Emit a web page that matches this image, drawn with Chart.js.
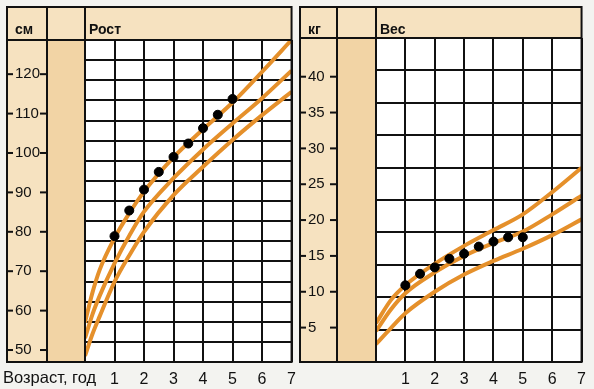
<!DOCTYPE html>
<html>
<head>
<meta charset="utf-8">
<script src="https://cdn.jsdelivr.net/npm/chart.js@4.4.1/dist/chart.umd.min.js"></script>
<style>
  html, body { margin: 0; padding: 0; background: #f3f3f0; }
  #wrap { position: relative; width: 594px; height: 389px; overflow: hidden; }
  canvas { position: absolute; top: 0; }
  #growth { left: 0; }
  #weight { left: 297px; }
</style>
</head>
<body>
<div id="wrap">
  <canvas id="growth" width="304" height="389"></canvas>
  <canvas id="weight" width="297" height="389"></canvas>
</div>
<script>
// ---- data ----
const heightTicks = [50, 60, 70, 80, 90, 100, 110, 120];
const weightTicks = [5, 10, 15, 20, 25, 30, 35, 40];

// measured child, every half year
const dotAges = [1, 1.5, 2, 2.5, 3, 3.5, 4, 4.5, 5];
const heightDots = [78.9, 85.4, 90.7, 95.2, 99.0, 102.4, 106.3, 109.7, 113.7];
const weightDots = [10.9, 12.5, 13.4, 14.6, 15.3, 16.3, 17.0, 17.6, 17.6];

// norm curves (upper / middle / lower)
const heightAges = [0, 0.25, 0.5, 1, 1.5, 2, 3, 4, 5, 6, 7];
const heightUpper = [57, 64.5, 70.4, 78.4, 84.7, 90.2, 98.9, 106, 112.8, 120.6, 128.7];
const heightMiddle = [53, 59, 63.8, 72, 79, 85.1, 93.6, 100.9, 107.5, 113.9, 120.9];
const heightLower = [48.5, 54, 58.6, 67.3, 74, 80, 89.3, 96.5, 103.3, 109.6, 115.5];

const weightAges = [0, 0.5, 1, 2, 3, 4, 5, 6, 7];
const weightUpper = [5.6, 8.8, 10.9, 13.9, 16.4, 18.6, 20.8, 23.9, 27.3];
const weightMiddle = [4.5, 7.5, 9.8, 12.7, 15.0, 16.8, 18.4, 20.8, 23.4];
const weightLower = [2.7, 4.9, 7.0, 10.0, 12.4, 14.3, 16.0, 17.9, 20.1];

const FONT = '"Liberation Sans", Arial, sans-serif';

// beige frame, header, value labels with little dashes
const framePlugin = {
  id: 'frame',
  beforeDraw(chart, args, o) {
    const { ctx, chartArea: a } = chart;
    ctx.save();
    ctx.fillStyle = '#f6e2c0';
    ctx.fillRect(o.x0, o.y0, a.right - o.x0, a.top - o.y0);
    ctx.fillRect(o.x0, a.top, o.col - o.x0, a.bottom - a.top);
    ctx.fillStyle = '#f2d4a5';
    ctx.fillRect(o.col, a.top, a.left - o.col, a.bottom - a.top);
    ctx.fillStyle = '#ffffff';
    ctx.fillRect(a.left, a.top, a.right - a.left, a.bottom - a.top);
    ctx.restore();
  },
  afterDraw(chart, args, o) {
    const { ctx, chartArea: a } = chart;
    const y = chart.scales.y;
    ctx.save();
    ctx.strokeStyle = '#111';
    ctx.lineWidth = 2;
    ctx.strokeRect(o.x0, o.y0, a.right - o.x0, a.bottom - o.y0);
    ctx.beginPath();
    ctx.moveTo(o.x0, a.top); ctx.lineTo(a.right, a.top);
    ctx.moveTo(o.col, o.y0); ctx.lineTo(o.col, a.bottom);
    ctx.moveTo(a.left, o.y0); ctx.lineTo(a.left, a.bottom);
    ctx.stroke();

    ctx.fillStyle = '#111';
    ctx.font = 'bold 14px ' + FONT;
    ctx.textBaseline = 'alphabetic';
    ctx.fillText(o.unit, o.x0 + 8, 34);
    ctx.fillText(o.title, a.left + 4, 34);

    ctx.font = '15px ' + FONT;
    ctx.textBaseline = 'middle';
    o.ticks.forEach(v => {
      const py = y.getPixelForValue(v);
      ctx.fillText(String(v), o.x0 + 8, py);
      ctx.fillRect(o.x0, py - 1, 6, 2);
      ctx.fillRect(o.col - 7, py - 1, 7, 2);
    });

    if (o.xlabel) {
      ctx.font = '16.5px ' + FONT;
      ctx.textBaseline = 'top';
      ctx.fillText(o.xlabel, 3, 370);
    }
    ctx.restore();
  }
};

function panel(id, p) {
  const datasets = [{
    type: 'scatter',
    data: dotAges.map((a, i) => ({ x: a, y: p.dots[i] })),
    backgroundColor: '#000',
    borderColor: '#000',
    pointRadius: 4.5,
    clip: 0,
    order: 0,
    yAxisID: 'y'
  }];
  [p.upper, p.middle, p.lower].forEach(vals => datasets.push({
    type: 'line',
    data: p.ages.map((a, i) => ({ x: a, y: vals[i] })),
    borderColor: '#e5902b',
    borderWidth: 4,
    pointRadius: 0,
    cubicInterpolationMode: 'monotone',
    clip: 0,
    order: 1,
    yAxisID: 'y'
  }));

  return new Chart(document.getElementById(id), {
    type: 'line',
    data: { datasets },
    options: {
      responsive: false,
      animation: false,
      layout: { autoPadding: false, padding: { left: 0, top: p.top, right: p.padRight, bottom: 0 } },
      plugins: { legend: { display: false }, tooltip: { enabled: false }, frame: p.frame },
      scales: {
        x: {
          type: 'linear', min: 0, max: 7,
          afterFit: s => { s.height = 27; },
          ticks: { stepSize: 1, padding: 8, color: '#111', font: { family: FONT, size: 16 },
                   callback: v => (v === 0 ? '' : v) },
          grid: { color: '#111', lineWidth: 2, drawTicks: false },
          border: { display: false }
        },
        g: {
          type: 'linear', position: 'left', min: 0, max: p.rows,
          afterFit: s => { s.width = p.leftW; },
          ticks: { display: false, stepSize: 1 },
          grid: { color: '#111', lineWidth: 2, drawTicks: false },
          border: { display: false }
        },
        y: { type: 'linear', display: false, min: p.range[0], max: p.range[1] }
      }
    },
    plugins: [framePlugin]
  });
}

panel('growth', {
  ages: heightAges, upper: heightUpper, middle: heightMiddle, lower: heightLower,
  dots: heightDots, range: [46.96, 128.67], rows: 16,
  top: 40, leftW: 85, padRight: 7,
  frame: { x0: 7, y0: 7, col: 47, unit: 'см', title: 'Рост', ticks: heightTicks, xlabel: 'Возраст, год' }
});

panel('weight', {
  ages: weightAges, upper: weightUpper, middle: weightMiddle, lower: weightLower,
  dots: weightDots, range: [0.2, 45.4], rows: 10,
  top: 38, leftW: 79, padRight: 6,
  frame: { x0: 3, y0: 7, col: 40, unit: 'кг', title: 'Вес', ticks: weightTicks }
});
</script>
</body>
</html>
